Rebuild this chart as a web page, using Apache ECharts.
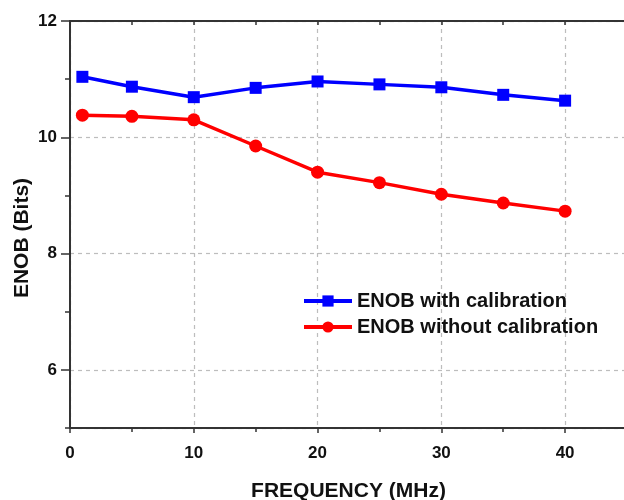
<!DOCTYPE html>
<html>
<head>
<meta charset="utf-8">
<script src="https://cdn.jsdelivr.net/npm/echarts@6/dist/echarts.min.js"></script>
<style>
  html, body { margin: 0; padding: 0; background: #fff; }
  #chart { width: 624px; height: 500px; }
</style>
</head>
<body>
<div id="chart"></div>
<script>
// frequency points (MHz)
const freq = [1, 5, 10, 15, 20, 25, 30, 35, 40]
// ENOB values (bits)
const enobWithCal = [11.04, 10.87, 10.69, 10.85, 10.96, 10.91, 10.86, 10.73, 10.63]
const enobWithoutCal = [10.38, 10.36, 10.30, 9.85, 9.40, 9.22, 9.02, 8.87, 8.73]
const seriesNames = ['ENOB with calibration', 'ENOB without calibration']

const font = 'Liberation Sans, Arial, sans-serif'
const axisColor = '#333'

const pairs = (xs, ys) => xs.map((x, i) => [x, ys[i]])

const chart = echarts.init(document.getElementById('chart'))

const gridLine = {
  show: true,
  lineStyle: { color: '#bdbdbd', width: 1.2, type: [4, 4] }
}

const option = {
  animation: false,
  grid: { left: 70, top: 21, width: 557, height: 407, containLabel: false, outerBoundsMode: 'none' },
  legend: {
    left: 297,
    top: 286,
    orient: 'vertical',
    itemWidth: 48,
    itemHeight: 14,
    itemGap: 6,
    lineStyle: { width: 4 },
    textStyle: { fontFamily: font, fontWeight: 'bold', fontSize: 20, color: '#111' },
    data: seriesNames
  },
  xAxis: [
    {
      type: 'value',
      position: 'bottom',
      min: 0, max: 45, interval: 10,
      name: 'FREQUENCY (MHz)',
      nameLocation: 'middle',
      nameGap: 53,
      nameTextStyle: { fontFamily: font, fontWeight: 'bold', fontSize: 21, color: '#111' },
      axisLine: { lineStyle: { color: axisColor, width: 2 } },
      axisTick: { length: 5, lineStyle: { color: axisColor, width: 1.5 } },
      axisLabel: { margin: 17, showMaxLabel: false, fontFamily: font, fontWeight: 'bold', fontSize: 17, color: '#111' },
      splitLine: gridLine
    },
    {
      // minor ticks along the bottom
      type: 'value',
      position: 'bottom',
      min: 0, max: 45, interval: 5,
      axisLine: { show: false },
      axisTick: { length: 4, lineStyle: { color: axisColor, width: 1.5 } },
      axisLabel: { show: false },
      splitLine: { show: false }
    },
    {
      // frame on top
      type: 'value',
      position: 'top',
      min: 0, max: 45, interval: 5,
      axisLine: { lineStyle: { color: axisColor, width: 2 } },
      axisTick: { inside: true, length: 4, lineStyle: { color: axisColor, width: 1.5 } },
      axisLabel: { show: false },
      splitLine: { show: false }
    }
  ],
  yAxis: [
    {
      type: 'value',
      position: 'left',
      min: 5, max: 12, splitNumber: 3,
      name: 'ENOB (Bits)',
      nameLocation: 'middle',
      nameGap: 37,
      nameMoveOverlap: false,
      nameRotate: 90,
      nameTextStyle: { fontFamily: font, fontWeight: 'bold', fontSize: 21, color: '#111', padding: [0, 27, 0, 0] },
      axisLine: { lineStyle: { color: axisColor, width: 2 } },
      axisTick: { length: 9, lineStyle: { color: axisColor, width: 1.5 } },
      axisLabel: { margin: 13, showMinLabel: false, fontFamily: font, fontWeight: 'bold', fontSize: 17, color: '#111' },
      splitLine: gridLine
    },
    {
      // minor ticks on the left
      type: 'value',
      position: 'left',
      min: 5, max: 12, interval: 1,
      axisLine: { show: false },
      axisTick: { length: 4, lineStyle: { color: axisColor, width: 1.5 } },
      axisLabel: { show: false },
      splitLine: { show: false }
    },
    {
      // frame on the right
      type: 'value',
      position: 'right',
      min: 5, max: 12, interval: 1,
      axisLine: { lineStyle: { color: axisColor, width: 2 } },
      axisTick: { inside: true, length: 5, lineStyle: { color: axisColor, width: 1.5 } },
      axisLabel: { show: false },
      splitLine: { show: false }
    }
  ],
  series: [
    {
      name: seriesNames[0],
      type: 'line',
      xAxisIndex: 0,
      yAxisIndex: 0,
      data: pairs(freq, enobWithCal),
      symbol: 'rect',
      symbolSize: 12,
      color: '#0000ff',
      lineStyle: { width: 3.5, color: '#0000ff' },
      itemStyle: { color: '#0000ff' }
    },
    {
      name: seriesNames[1],
      type: 'line',
      xAxisIndex: 0,
      yAxisIndex: 0,
      data: pairs(freq, enobWithoutCal),
      symbol: 'circle',
      symbolSize: 13,
      color: '#ff0000',
      lineStyle: { width: 3.5, color: '#ff0000' },
      itemStyle: { color: '#ff0000' }
    }
  ]
}

chart.setOption(option)
</script>
</body>
</html>
